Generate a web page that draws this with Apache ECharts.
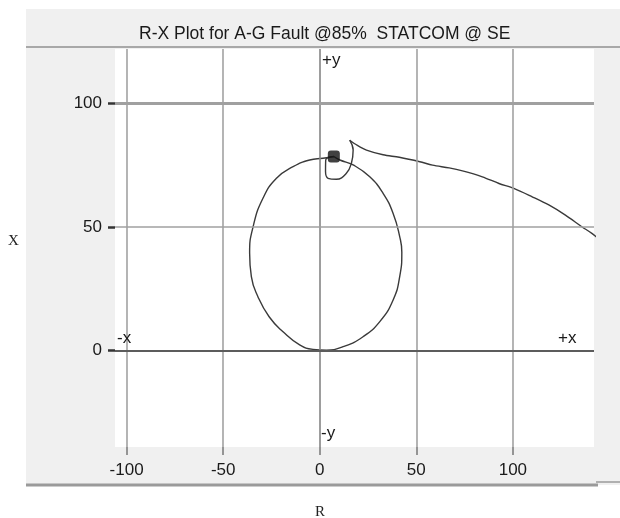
<!DOCTYPE html>
<html>
<head>
<meta charset="utf-8">
<script src="https://cdn.jsdelivr.net/npm/echarts@6/dist/echarts.min.js"></script>
<style>
html, body { margin: 0; padding: 0; background: #fff; }
#main { width: 620px; height: 518px; }
</style>
</head>
<body>
<div id="main"></div>
<script>
// axis ticks
var xTicks = [-100, -50, 0, 50, 100];
var yTicks = [0, 50, 100];

// R-X trajectory (R, X)
var loadPath = [[146, 44.2], [140.9, 47.4], [135.7, 50.1], [127.2, 54.8], [118.6, 58.9], [110, 62.2], [100.5, 65.6], [92.8, 67.6], [84.2, 70.3], [73.9, 72.7], [67, 73.9], [58.4, 75], [51.8, 76.4], [41.2, 78.2], [32.8, 79.2], [24.2, 81.1], [19.5, 83], [15.5, 85.1]];
var hookPath = [[15.5, 85.1], [17.3, 81.1], [16.4, 75.8], [13.8, 71.7], [8.6, 69.3], [4.3, 69.7], [3, 72.4], [3.1, 77.1], [7.3, 78.5]];
var loopPath = [[7.3, 78.5], [10.4, 77.1], [17.3, 75.1], [25.9, 70.3], [32.8, 63.6], [38, 55.5], [41.4, 46.1], [42.5, 39.8], [41.4, 29.9], [38, 20.5], [31.1, 11.7], [22.4, 5.6], [12.1, 1.6], [3.5, 0.2], [-3.5, 0.5], [-10.4, 2.3], [-19, 7.6], [-26.2, 13.7], [-32, 21.8], [-35.4, 29.9], [-36.3, 39.5], [-34.5, 50.1], [-29.4, 61.6], [-22.4, 69.7], [-13.8, 74.4], [-5.2, 77.1], [1.7, 77.8], [7.3, 78.5]];
var endPoint = [[7.3, 78.5]];

var sans = "'Liberation Sans', Arial, sans-serif";
var serif = "'Liberation Serif', 'DejaVu Serif', serif";

var myChart = echarts.init(document.getElementById('main'));

var option = {
	backgroundColor: '#fff',
	animation: false,
	title: {
		text: 'R-X Plot for A-G Fault @85%  STATCOM @ SE',
		left: 134,
		top: 20,
		textStyle: { fontFamily: sans, fontSize: 17.5, fontWeight: 'normal', color: '#1a1a1a' }
	},
	graphic: [
		{ type: 'rect', z: -10, shape: { x: 26, y: 9, width: 594, height: 476 }, style: { fill: '#f0f0f0' } },
		{ type: 'line', z: -9, shape: { x1: 26, y1: 47, x2: 620, y2: 47 }, style: { stroke: '#a8a8a8', lineWidth: 2 } },
		{ type: 'rect', z: -9, shape: { x: 115, y: 49, width: 479, height: 398 }, style: { fill: '#fff' } },
		{ type: 'line', z: -9, shape: { x1: 26, y1: 485, x2: 598, y2: 485 }, style: { stroke: '#9a9a9a', lineWidth: 3 } },
		{ type: 'line', z: -9, shape: { x1: 596, y1: 482, x2: 620, y2: 482 }, style: { stroke: '#b0b0b0', lineWidth: 2 } },
		{ type: 'text', z: 100, style: { text: '+y', x: 322, y: 52, font: '17px ' + sans, fill: '#1a1a1a' } },
		{ type: 'text', z: 100, style: { text: '-y', x: 321, y: 425, font: '17px ' + sans, fill: '#1a1a1a' } },
		{ type: 'text', z: 100, style: { text: '-x', x: 117, y: 330, font: '17px ' + sans, fill: '#1a1a1a' } },
		{ type: 'text', z: 100, style: { text: '+x', x: 558, y: 330, font: '17px ' + sans, fill: '#1a1a1a' } },
		{ type: 'text', z: 100, style: { text: 'X', x: 8, y: 234, font: '15px ' + serif, fill: '#222' } },
		{ type: 'text', z: 100, style: { text: 'R', x: 315, y: 505, font: '15px ' + serif, fill: '#222' } }
	],
	grid: { left: 115, top: 49, width: 479, height: 398, containLabel: false },
	xAxis: {
		type: 'value',
		min: -106,
		max: 142,
		axisLine: { show: false, onZero: false },
		splitLine: { show: false },
		axisTick: { show: true, customValues: xTicks, length: 8, lineStyle: { color: '#777', width: 1.5 } },
		axisLabel: { customValues: xTicks, margin: 15, fontFamily: sans, fontSize: 17, color: '#1a1a1a' }
	},
	yAxis: {
		type: 'value',
		min: -39,
		max: 122,
		axisLine: { show: false, onZero: false },
		splitLine: { show: false },
		axisTick: { show: true, customValues: yTicks, length: 7, lineStyle: { color: '#333', width: 2.5 } },
		axisLabel: { customValues: yTicks, margin: 13, fontFamily: sans, fontSize: 17, color: '#1a1a1a' }
	},
	series: [
		{
			name: 'grid',
			type: 'line',
			data: [],
			z: 1,
			silent: true,
			markLine: {
				silent: true,
				symbol: ['none', 'none'],
				label: { show: false },
				data: xTicks.map(function(v) {
					return { xAxis: v, lineStyle: { type: 'solid', color: v === 0 ? '#858585' : '#a2a2a2', width: 1.6 } };
				}).concat(yTicks.map(function(v) {
					return { yAxis: v, lineStyle: { type: 'solid', color: v === 0 ? '#5c5c5c' : '#a0a0a0', width: v === 100 ? 3 : (v === 0 ? 2 : 1.5) } };
				}))
			}
		},
		{ name: 'load', type: 'line', data: loadPath, smooth: 0.3, showSymbol: false, z: 3, lineStyle: { color: '#3a3a3a', width: 1.4 } },
		{ name: 'hook', type: 'line', data: hookPath, smooth: 0.45, showSymbol: false, z: 3, lineStyle: { color: '#3a3a3a', width: 1.4 } },
		{ name: 'loop', type: 'line', data: loopPath, smooth: 0.5, showSymbol: false, z: 3, lineStyle: { color: '#3a3a3a', width: 1.4 } },
		{ name: 'end', type: 'scatter', data: endPoint, symbol: 'roundRect', symbolSize: [12, 12], z: 4, itemStyle: { color: '#111' } }
	]
};
myChart.setOption(option);
</script>
</body>
</html>
